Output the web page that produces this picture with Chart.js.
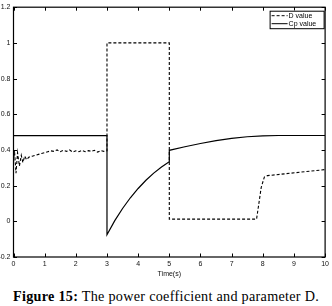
<!DOCTYPE html>
<html>
<head>
<meta charset="utf-8">
<script src="https://cdn.jsdelivr.net/npm/chart.js@4.4.0/dist/chart.umd.min.js"></script>
<style>
  html,body{margin:0;padding:0;background:#fff;}
  #wrap{position:relative;width:332px;height:306px;}
  #plot{position:absolute;left:0;top:0;}
  #caption{position:absolute;left:0;top:288px;width:332px;text-align:center;
    font-family:'Liberation Serif','DejaVu Serif',serif;font-size:14.2px;color:#000;white-space:nowrap;letter-spacing:0.28px;}
  #caption b{font-family:'Liberation Serif',serif;font-weight:bold;}
</style>
</head>
<body>
<div id="wrap">
  <canvas id="plot" width="332" height="282"></canvas>
  <div id="caption"><b>Figure 15:</b> The power coefficient and parameter D.</div>
</div>
<script>
// ===================== DATA =====================
const seriesNames = ['D value','Cp value'];

// D value (dashed)
const dTime  = [0,0.03,0.08,0.13,0.19,0.25,0.3,0.36,0.42,0.5,0.6,0.7,0.8,0.9,1.0,1.1,1.2,1.3,1.4,1.5,1.6,1.7,1.8,1.9,2.0,2.1,2.2,2.3,2.4,2.5,2.6,2.7,2.8,2.9,3.0,3.0,5.0,5.0,7.8,7.95,8.05,8.15,10];
const dValue = [0.33,0.40,0.27,0.385,0.31,0.37,0.33,0.365,0.345,0.36,0.365,0.37,0.375,0.38,0.385,0.39,0.395,0.392,0.40,0.39,0.398,0.392,0.40,0.388,0.395,0.39,0.398,0.39,0.396,0.392,0.398,0.388,0.396,0.392,0.395,1.0,1.0,0.012,0.012,0.19,0.248,0.256,0.29];

// Cp value (solid)
const cpTime  = [0,3,3,3.25,3.5,3.75,4,4.25,4.5,4.75,5,5,5.5,6,6.5,7,7.5,8,8.5,10];
const cpValue = [0.48,0.48,-0.075,0.004,0.072,0.132,0.184,0.23,0.27,0.304,0.334,0.398,0.418,0.436,0.452,0.465,0.474,0.479,0.481,0.481];

const xTicks = [0,1,2,3,4,5,6,7,8,9,10];
const yTicks = [-0.2,0,0.2,0.4,0.6,0.8,1,1.2];
const xTitle = 'Time(s)';

// ===================== HELPERS =====================
const toPts = (xs,ys)=>xs.map((x,i)=>({x, y:ys[i]}));
const fmtTick = v=>String(Math.round(v*10)/10);
const TICK_FONT = {family:"'Liberation Sans', Arial, sans-serif", size:7};

// box + inward ticks on all four sides, MATLAB style
const boxTicks = {
  id:'boxTicks',
  afterDatasetsDraw(chart){
    const {ctx, chartArea:a, scales:{x,y}} = chart;
    const L = 3.5;
    ctx.save();
    ctx.strokeStyle = '#000';
    ctx.lineWidth = 1;
    ctx.beginPath();
    xTicks.forEach(v=>{
      const px = Math.round(x.getPixelForValue(v))+0.5;
      ctx.moveTo(px,a.bottom); ctx.lineTo(px,a.bottom-L);
      ctx.moveTo(px,a.top); ctx.lineTo(px,a.top+L);
    });
    yTicks.forEach(v=>{
      const py = Math.round(y.getPixelForValue(v))+0.5;
      ctx.moveTo(a.left,py); ctx.lineTo(a.left+L,py);
      ctx.moveTo(a.right,py); ctx.lineTo(a.right-L,py);
    });
    ctx.stroke();
    ctx.lineWidth = 1.2;
    ctx.strokeRect(a.left, a.top, a.right-a.left, a.bottom-a.top);
    ctx.restore();
  }
};

// legend box in top-right corner of axes
const insetLegend = {
  id:'insetLegend',
  afterDraw(chart){
    const {ctx, chartArea:a} = chart;
    const w = 54, h = 17.5;
    const x0 = a.right-1.5-w, y0 = a.top+3.5;
    ctx.save();
    ctx.fillStyle = '#fff';
    ctx.fillRect(x0,y0,w,h);
    ctx.strokeStyle = '#000';
    ctx.lineWidth = 1;
    ctx.strokeRect(x0+0.5,y0+0.5,w,h);
    ctx.font = "7px 'Liberation Sans', Arial, sans-serif";
    ctx.textBaseline = 'middle';
    ctx.fillStyle = '#000';
    chart.data.datasets.forEach((ds,i)=>{
      const ly = y0+5+i*8;
      ctx.beginPath();
      ctx.setLineDash(ds.borderDash||[]);
      ctx.lineWidth = 1;
      ctx.moveTo(x0+2,ly); ctx.lineTo(x0+18,ly);
      ctx.stroke();
      ctx.setLineDash([]);
      ctx.fillText(ds.label, x0+19, ly);
    });
    ctx.restore();
  }
};

// ===================== CHART =====================
new Chart(document.getElementById('plot').getContext('2d'),{
  type:'line',
  data:{datasets:[
    {label:seriesNames[0], data:toPts(dTime,dValue), borderColor:'#000', borderWidth:1.1, borderDash:[3,2], pointRadius:0, tension:0, fill:false},
    {label:seriesNames[1], data:toPts(cpTime,cpValue), borderColor:'#000', borderWidth:1.2, pointRadius:0, tension:0, fill:false}
  ]},
  options:{
    responsive:false, animation:false, maintainAspectRatio:false,
    layout:{padding:{left:0, right:5, top:5.5, bottom:0}},
    plugins:{legend:{display:false}, tooltip:{enabled:false}},
    scales:{
      x:{type:'linear', min:0, max:10,
        afterBuildTicks:s=>{ s.ticks = xTicks.map(v=>({value:v})); },
        afterFit:s=>{ s.height = 25; },
        grid:{drawOnChartArea:false, drawTicks:false},
        border:{display:false},
        ticks:{color:'#111', font:TICK_FONT, padding:3, maxRotation:0, autoSkip:false, callback:v=>fmtTick(v)},
        title:{display:true, text:xTitle, color:'#111', font:TICK_FONT, padding:{top:0,bottom:4}}
      },
      y:{type:'linear', min:-0.2, max:1.2,
        afterBuildTicks:s=>{ s.ticks = yTicks.map(v=>({value:v})); },
        afterFit:s=>{ s.width = 13.5; },
        grid:{drawOnChartArea:false, drawTicks:false},
        border:{display:false},
        ticks:{color:'#111', font:TICK_FONT, padding:3, autoSkip:false, callback:v=>fmtTick(v)}
      }
    }
  },
  plugins:[boxTicks, insetLegend]
});
</script>
</body>
</html>
